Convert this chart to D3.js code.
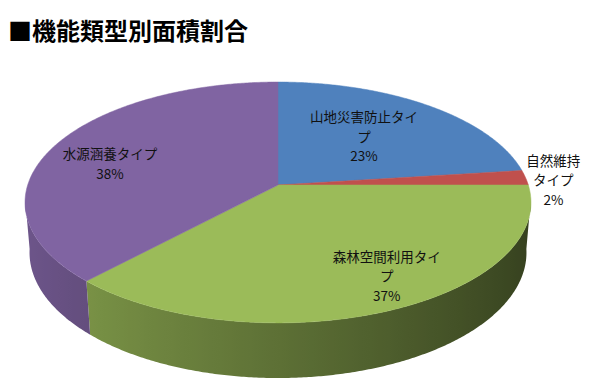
<!DOCTYPE html>
<html><head><meta charset="utf-8">
<script src="https://cdn.jsdelivr.net/npm/d3@7"></script>
<style>html,body{margin:0;padding:0;background:#fff;}svg{display:block;}</style>
</head><body>
<svg id="chart" width="589" height="392"></svg>
<script>
// ---- data ----
const categories = ["山地災害防止タイプ", "自然維持タイプ", "森林空間利用タイプ", "水源涵養タイプ"];
const values = [23, 2, 37, 38];
const percentLabels = ["23%", "2%", "37%", "38%"];
const colors = ["#4F81BD", "#C0504D", "#9BBB59", "#8064A2"];
const title = "■機能類型別面積割合";

// ---- layout ----
const W = 589, H = 392;
const cx = 278, cy = 185;          // projected pie centre
const alpha = 28.1 * Math.PI / 180; // tilt
const u = 0.145;                    // perspective strength
const D = 1, R = u / Math.cos(alpha);
const k = 250.3 / R;
const h = 0.229 * R;                // thickness
// label placement: [angle deg, radial fraction, wrap width]
const labelLayout = [[40.2, 0.566, 112], [88, 1.107, 60], [150.8, 0.80, 112], [284.9, 0.713, 112]];

function proj(theta, f, z) {
  const X = f * R * Math.sin(theta);
  const back = f * R * Math.cos(theta);
  const up = back * Math.sin(alpha) + z * Math.cos(alpha);
  const dist = D + back * Math.cos(alpha) - z * Math.sin(alpha);
  return [cx + k * X / dist, cy - k * up / dist];
}

const svg = d3.select("#chart");
const defs = svg.append("defs");
const pie = d3.pie().sort(null).value(d => d)(values);
const line = d3.line();
const step = Math.PI / 360;

const shadeF = th => Math.max(0.3, Math.min(0.95, 0.6 - 0.26 * Math.sin(th)));
const scaleCol = (c, f) => { const col = d3.rgb(c); return d3.rgb(col.r * f, col.g * f, col.b * f).toString(); };

// sides (front-facing part only), one path per slice with horizontal gradient
const sideG = svg.append("g");
const visA = Math.PI - Math.acos(u) - 0.03, visB = Math.PI + Math.acos(u) + 0.03;
pie.forEach((p, i) => {
  const a0 = Math.max(p.startAngle, visA), a1 = Math.min(p.endAngle, visB);
  if (a1 <= a0) return;
  const n = Math.max(2, Math.ceil((a1 - a0) / step));
  const angs = d3.range(n + 1).map(j => a0 + (a1 - a0) * j / n);
  const topPts = angs.map(a => proj(a, 1, 0));
  const botPts = angs.map(a => proj(a, 1, -h)).reverse();
  const xs = topPts.map(q => q[0]);
  const xmin = d3.min(xs), xmax = d3.max(xs);
  const gid = "side" + i;
  const g = defs.append("linearGradient").attr("id", gid)
    .attr("gradientUnits", "userSpaceOnUse")
    .attr("x1", xmin).attr("y1", 0).attr("x2", xmax).attr("y2", 0);
  const stops = angs.map((a, j) => ({ off: (xs[j] - xmin) / (xmax - xmin || 1), c: scaleCol(colors[i], shadeF(a)) }))
    .sort((A, B) => A.off - B.off);
  stops.filter((s, j) => j % 4 === 0 || j === stops.length - 1)
    .forEach(s => g.append("stop").attr("offset", s.off).attr("stop-color", s.c));
  sideG.append("path").attr("d", line(topPts.concat(botPts)) + "Z").attr("fill", `url(#${gid})`);
});

// top faces
const topG = svg.append("g");
pie.forEach((p, i) => {
  const pts = [proj(0, 0, 0)];
  const n = Math.max(2, Math.ceil((p.endAngle - p.startAngle) / step));
  for (let j = 0; j <= n; j++) {
    const a = p.startAngle + (p.endAngle - p.startAngle) * j / n;
    pts.push(proj(a, 1, 0));
  }
  topG.append("path").attr("d", line(pts) + "Z").attr("fill", colors[i]).attr("stroke", colors[i]).attr("stroke-width", 0.5);
});

// labels
const fontFam = "'Noto Sans CJK JP', 'Noto Sans', sans-serif";
const lblG = svg.append("g").attr("font-family", fontFam).attr("font-size", 13.5).attr("fill", "#111");
const lineH = 19.5;
categories.forEach((name, i) => {
  const [deg, f, maxW] = labelLayout[i];
  const [x, y] = proj(deg * Math.PI / 180, f, 0);
  const tmp = lblG.append("text");
  const lines = [];
  let cur = "";
  for (const ch of name) {
    tmp.text(cur + ch);
    if (tmp.node().getComputedTextLength() > maxW && cur) { lines.push(cur); cur = ch; }
    else cur += ch;
  }
  if (cur) lines.push(cur);
  tmp.remove();
  lines.push(percentLabels[i]);
  const t = lblG.append("text").attr("text-anchor", "middle");
  const y0 = y - (lines.length - 1) * lineH / 2;
  lines.forEach((l, j) => {
    t.append("tspan").attr("x", x).attr("y", y0 + j * lineH).attr("dy", "0.36em").text(l);
  });
});

// title
svg.append("text").attr("x", 8).attr("y", 40)
  .attr("font-family", fontFam).attr("font-weight", "bold").attr("font-size", 24)
  .attr("fill", "#000").text(title);
</script>
</body></html>
